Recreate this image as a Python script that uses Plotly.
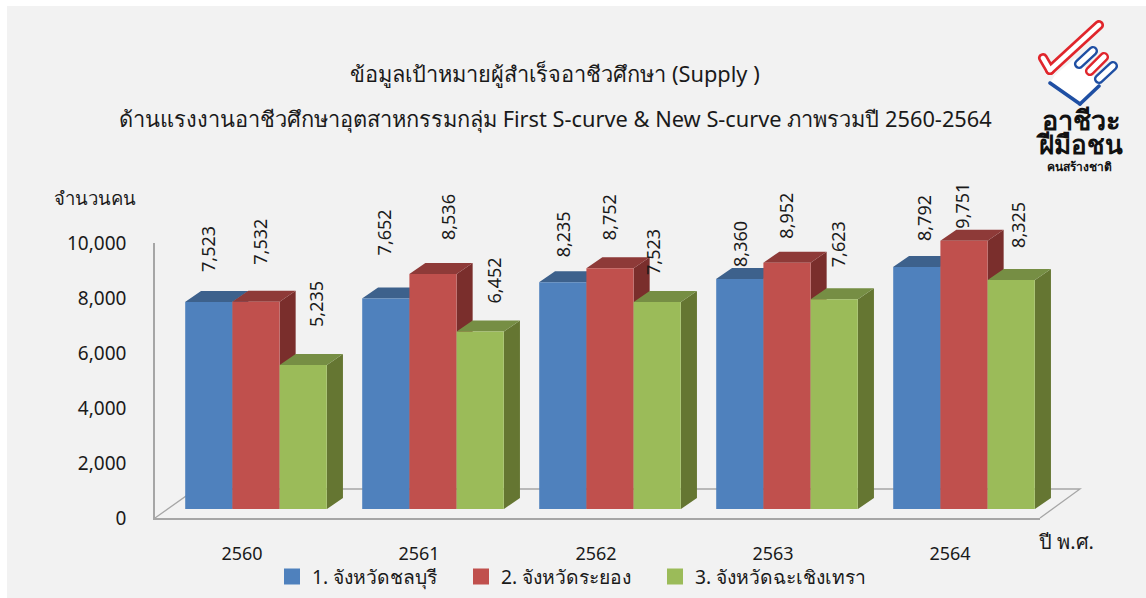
import math
import plotly.graph_objects as go

# ---------- data ----------
years = ["2560", "2561", "2562", "2563", "2564"]
series_names = ["1. จังหวัดชลบุรี", "2. จังหวัดระยอง", "3. จังหวัดฉะเชิงเทรา"]
chonburi = [7523, 7652, 8235, 8360, 8792]
rayong = [7532, 8536, 8752, 8952, 9751]
chachoengsao = [5235, 6452, 7523, 7623, 8325]
y_ticks = [0, 2000, 4000, 6000, 8000, 10000]
title_line_1 = "ข้อมูลเป้าหมายผู้สำเร็จอาชีวศึกษา (Supply )"
title_line_2 = "ด้านแรงงานอาชีวศึกษาอุตสาหกรรมกลุ่ม First S-curve & New S-curve ภาพรวมปี 2560-2564"

# ---------- layout constants (pixels) ----------
W, H = 1146, 598
FONT = "Noto Sans, Tahoma, sans-serif"
TEXT = "#1a1a1a"
front = ["#4f81bd", "#c0504d", "#9bbb59"]
top = ["#3d618c", "#8e3a38", "#768e44"]
side = ["#3a5a82", "#7a2e2c", "#657632"]
legend_col = ["#4f81bd", "#c0504d", "#9bbb59"]
legend_x = [272, 461, 655]

PX_X = 177.0          # pixels per category
PX_Y = 0.02752        # pixels per unit
BASE_PX = 509.0
X0_PX = 256.0         # centre of first group
BAR_W = 47.3 / PX_X
DX, DY = 16 / PX_X, 11 / PX_Y

label_lift = [[27, 40, 22, 9, 23], [34, 31, 25, 21, 9], [35, 25, 24, 29, 29]]
label_dx = [[-1, -2, 0, 0, 7], [4, 15, -1, -1, -2], [13, 14, -4, 4, 7]]

series = [chonburi, rayong, chachoengsao]
pos = list(range(len(years)))


def px(x):
    return x / W


def py(y):
    return 1 - y / H


fig = go.Figure()

# floor / value axes subplot, legend entries live here
for k, (name, col) in enumerate(zip(series_names, legend_col)):
    fig.add_trace(go.Scatter(x=[None], y=[None], mode="markers", name=name, xaxis="x", yaxis="y",
                             legend="legend" if k == 0 else f"legend{k + 1}",
                             marker=dict(symbol="square", size=16, color=col), hoverinfo="skip"))

# depth faces + blue / red labels (below the fronts)
LABEL_SIZE = 18
for s, vals in enumerate(series):
    off = (s - 1) * BAR_W
    if s < 2:
        fig.add_trace(go.Bar(x=pos, y=vals, base=[l / PX_Y for l in label_lift[s]],
                             offset=[off + d / PX_X - BAR_W / 2 for d in label_dx[s]], width=BAR_W,
                             text=[f"{v:,}" for v in vals], textposition="outside", textangle=-90,
                             textfont=dict(family=FONT, size=LABEL_SIZE, color=TEXT), cliponaxis=False,
                             marker=dict(color="rgba(0,0,0,0)", line=dict(width=0)), xaxis="x2", yaxis="y2",
                             showlegend=False, hoverinfo="skip"))
for s, vals in enumerate(series):
    off = (s - 1) * BAR_W
    tx, ty, sx, sy = [], [], [], []
    for i, v in zip(pos, vals):
        x0, x1 = i + off - BAR_W / 2, i + off + BAR_W / 2
        tx += [x0, x1, x1 + DX, x0 + DX, x0, None]
        ty += [v, v, v + DY, v + DY, v, None]
        sx += [x1, x1, x1 + DX, x1 + DX, x1, None]
        sy += [0, v, v + DY, DY, 0, None]
    for xs, ys, col in ((sx, sy, side[s]), (tx, ty, top[s])):
        fig.add_trace(go.Scatter(x=xs, y=ys, mode="lines", fill="toself", fillcolor=col,
                                 line=dict(width=0, color=col), xaxis="x2", yaxis="y2",
                                 showlegend=False, hoverinfo="skip"))

# front faces
for s, vals in enumerate(series):
    fig.add_trace(go.Bar(x=pos, y=vals, name=series_names[s], marker=dict(color=front[s], line=dict(width=0)),
                         xaxis="x3", yaxis="y3", showlegend=False))
# green labels sit above the red side wall
s = 2
fig.add_trace(go.Bar(x=pos, y=series[s], base=[l / PX_Y for l in label_lift[s]],
                     offset=[BAR_W + d / PX_X - BAR_W / 2 for d in label_dx[s]], width=BAR_W,
                     text=[f"{v:,}" for v in series[s]], textposition="outside", textangle=-90,
                     textfont=dict(family=FONT, size=LABEL_SIZE, color=TEXT), cliponaxis=False,
                     marker=dict(color="rgba(0,0,0,0)", line=dict(width=0)), xaxis="x3", yaxis="y3",
                     showlegend=False, hoverinfo="skip"))

# ---------- decorative shapes ----------
shapes = [dict(type="rect", xref="paper", yref="paper", x0=px(7), x1=1, y0=0, y1=py(6),
               fillcolor="#f2f2f2", line=dict(width=0), layer="below")]
floor = [(155, 518), (196, 489), (1080, 489), (1040, 518)]
floor_path = "M" + "L".join(f"{px(x):.5f},{py(y):.5f}" for x, y in floor)
shapes.append(dict(type="path", xref="paper", yref="paper", path=floor_path, fillcolor="rgba(0,0,0,0)",
                   line=dict(color="#a6a6a6", width=1.3), layer="below"))


def capsule(x0, y0, x1, y1, r, color):
    """rounded stick in pixels (logo drawing)"""
    dx, dy = x1 - x0, y1 - y0
    n = math.hypot(dx, dy)
    ux, uy = dx / n, dy / n
    nx, ny = -uy * r, ux * r
    k = 1.33
    ex, ey = ux * r * k, uy * r * k
    P = lambda a, b: f"{px(a):.5f},{py(b):.5f}"
    d = ("M" + P(x0 + nx, y0 + ny) + "L" + P(x1 + nx, y1 + ny)
         + "C" + P(x1 + nx + ex, y1 + ny + ey) + " " + P(x1 - nx + ex, y1 - ny + ey) + " " + P(x1 - nx, y1 - ny)
         + "L" + P(x0 - nx, y0 - ny)
         + "C" + P(x0 - nx - ex, y0 - ny - ey) + " " + P(x0 + nx - ex, y0 + ny - ey) + " " + P(x0 + nx, y0 + ny) + "Z")
    return dict(type="path", xref="paper", yref="paper", path=d, fillcolor=color, line=dict(width=0), layer="above")


RED, BLUE, WHITE = "#e0262c", "#1f4fa3", "#ffffff"
hand = [(1050, 83), (1080, 104), (1100, 86), (1098, 80), (1075, 58), (1055, 75)]
shapes.append(dict(type="path", xref="paper", yref="paper", layer="above", fillcolor=WHITE, line=dict(width=0),
                   path="M" + "L".join(f"{px(x):.5f},{py(y):.5f}" for x, y in hand) + "Z"))
shapes.append(capsule(1050, 83, 1080, 104, 1.8, BLUE))
shapes.append(capsule(1080, 104, 1099, 86, 1.8, BLUE))
fingers = [((1093, 51), (1079, 64), BLUE), ((1104, 57), (1090, 71), RED), ((1113, 66), (1099, 79), BLUE)]
for (a, b, c) in fingers:
    shapes += [capsule(*a, *b, 5, c), capsule(*a, *b, 2.6, WHITE)]
for r, c in ((5, RED), (2.3, WHITE)):
    shapes.append(capsule(1043, 58, 1050, 70, r, c))
    shapes.append(capsule(1050, 70, 1099, 25, r, c))


# ---------- text ----------
def note(text, x, y, size, xanchor="center", weight=400, color=TEXT):
    return dict(text=text, x=px(x), y=py(y), xref="paper", yref="paper", xanchor=xanchor, yanchor="middle",
                showarrow=False, font=dict(family=FONT, size=size, color=color, weight=weight))


annotations = [
    note(title_line_2, 555, 119, 21.8),
    note("จำนวนคน", 95, 197, 18.5),
    note("ปี พ.ศ.", 1066, 541, 20),
    note('<span style="font-size:27px">อาชีวะ</span><br><span style="font-size:26px">ฝีมือชน</span>',
         1079, 132, 18.5, weight=700, color="#111111"),
    note("คนสร้างชาติ", 1079, 167, 12, weight=700, color="#111111"),
]

# ---------- axes ----------
full_x = [-X0_PX / PX_X, (W - X0_PX) / PX_X]
full_y = [(BASE_PX - H) / PX_Y, BASE_PX / PX_Y]
hidden = dict(visible=False, fixedrange=True)


def legend_at(x):
    return dict(orientation="h", x=px(x), y=py(577), xanchor="left", yanchor="middle",
                bgcolor="rgba(0,0,0,0)", font=dict(family=FONT, size=19.3, color=TEXT), itemclick=False,
                itemdoubleclick=False)


fig.update_layout(
    width=W, height=H, autosize=False,
    margin=dict(l=0, r=0, t=0, b=0, autoexpand=False),
    paper_bgcolor="#ffffff", plot_bgcolor="rgba(0,0,0,0)",
    barmode="group", bargap=0.2, bargroupgap=0,
    font=dict(family=FONT, color=TEXT),
    title=dict(text=title_line_1, x=555 / W, xanchor="center",
               y=py(74), yanchor="middle", font=dict(family=FONT, size=21.8, color=TEXT)),
    xaxis=dict(domain=[px(155), px(1040)], anchor="y", range=[(155 - 242) / PX_X, (1040 - 242) / PX_X],
               tickmode="array", tickvals=pos, ticktext=years, showgrid=False, zeroline=False,
               showline=True, linecolor="#a6a6a6", linewidth=1.5, ticks="", ticklabelstandoff=19,
               tickfont=dict(family=FONT, size=18, color=TEXT), fixedrange=True, automargin=False),
    yaxis=dict(domain=[py(518), py(243)], anchor="x", range=[0, 10000], tickmode="array", tickvals=y_ticks,
               tickformat=",d", showgrid=False, zeroline=False, showline=True, linecolor="#a6a6a6", linewidth=1.5,
               ticks="", ticklabelstandoff=23, tickfont=dict(family=FONT, size=19, color=TEXT), fixedrange=True,
               automargin=False),
    xaxis2=dict(domain=[0, 1], anchor="y2", range=full_x, **hidden),
    yaxis2=dict(domain=[0, 1], anchor="x2", range=full_y, **hidden),
    xaxis3=dict(domain=[0, 1], anchor="y3", range=full_x, **hidden),
    yaxis3=dict(domain=[0, 1], anchor="x3", range=full_y, **hidden),
    legend=legend_at(legend_x[0]), legend2=legend_at(legend_x[1]), legend3=legend_at(legend_x[2]),
    shapes=shapes, annotations=annotations,
)

fig.write_html("out.html", config=dict(displayModeBar=False),
               post_script="document.body.style.margin='0';document.body.style.overflow='hidden';")
